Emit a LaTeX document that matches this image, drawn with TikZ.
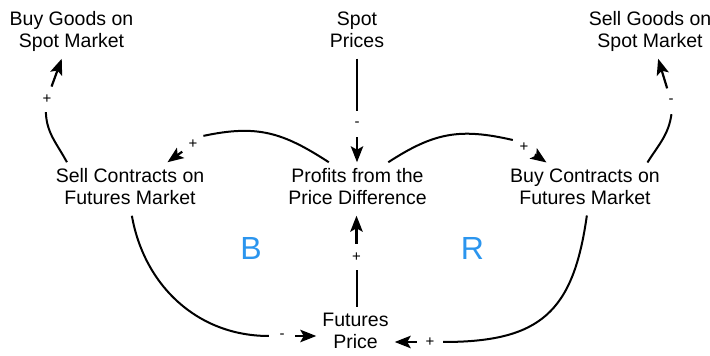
\documentclass[tikz,border=0pt]{standalone}
\usepackage{fontspec}
\setmainfont{Liberation Sans}
\usetikzlibrary{arrows.meta,calc}
\definecolor{loopblue}{RGB}{43,149,238}
\newcommand{\mystrut}{\rule[-5pt]{0pt}{17pt}}
\begin{document}
\begin{tikzpicture}[x=1pt,y=1pt,
  var/.style={align=center,inner sep=6pt,font=\fontsize{19.5}{22}\selectfont},
  sgn/.style={circle,minimum size=26pt,inner sep=0pt,font=\fontsize{15}{15}\selectfont},
  link/.style={line width=2pt},
  arr/.style={line width=2.2pt,-{Stealth[length=16pt,width=12.5pt,inset=3.5pt]}},
  looplbl/.style={text=loopblue,font=\fontsize{32}{32}\selectfont}]
\useasboundingbox (0,0) rectangle (710,356);

% variables
\node[var] (buygoods)  at (71.5,324) {\mystrut Buy Goods on\\\mystrut Spot Market};
\node[var] (spot)      at (357,324)  {\mystrut Spot\\\mystrut Prices};
\node[var] (sellgoods) at (650,324)  {\mystrut Sell Goods on\\\mystrut Spot Market};
\node[var] (sellc)     at (130,167)  {\mystrut Sell Contracts on\\\mystrut Futures Market};
\node[var] (profits)   at (357.5,167) {\mystrut Profits from the\\\mystrut Price Difference};
\node[var] (buyc)      at (585,167)  {\mystrut Buy Contracts on\\\mystrut Futures Market};
\node[var] (futures)   at (355.5,23) {\mystrut Futures\\\mystrut Price};

% loop labels
\node[looplbl] (loopB) at (251,107.5) {B};
\node[looplbl] (loopR) at (472.5,107.5) {R};

% polarity signs
\node[sgn] (s1) at (47,257)    {+};
\node[sgn] (s2) at (193,212)   {+};
\node[sgn] (s3) at (524,209)   {+};
\node[sgn] (s4) at (671,255)   {-};
\node[sgn] (s5) at (357,232)   {-};
\node[sgn] (s6) at (356.5,99)  {+};
\node[sgn] (s7) at (282,20)    {-};
\node[sgn] (s8) at (430,14)    {+};

% connectors
\draw[link] (sellc.157) to[out=118,in=272] (s1.265);
\draw[arr]  (s1) -- (buygoods);

\draw[link] (profits.137) to[out=147,in=12,looseness=1.1] (s2.38);
\draw[arr]  (s2) -- (sellc);

\draw[link] (profits.41) to[out=33,in=167,looseness=1.1] (s3.148);
\draw[arr]  (s3) -- (buyc);

\draw[link] (buyc.23) to[out=58,in=262] (s4.272);
\draw[arr]  (s4) -- (sellgoods);

\draw[link] (spot) -- (s5);
\draw[arr]  (s5) -- (s5 |- profits.north);

\draw[link] (s6 |- futures.north) -- (s6);
\draw[arr]  (s6) -- (s6 |- profits.south);

\draw[link] (sellc.274) to[out=-80,in=180] (s7);
\draw[arr]  (s7) -- (s7 -| futures.west);

\draw[link] (buyc.274) to[out=262,in=0,looseness=1.3] (s8);
\draw[arr]  (s8) -- (s8 -| futures.east);
\end{tikzpicture}
\end{document}
